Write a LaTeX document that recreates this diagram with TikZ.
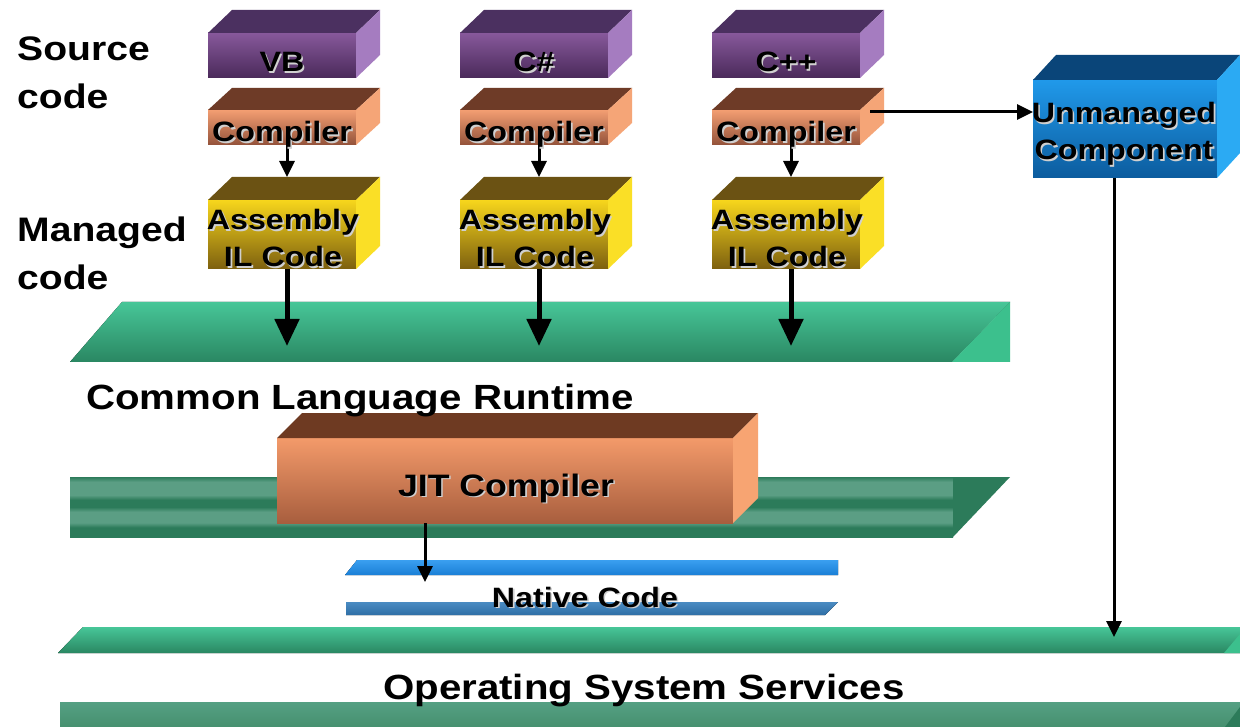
\documentclass[tikz,border=0pt]{standalone}
\usepackage{fontspec}
\setmainfont{Liberation Sans}[FakeStretch=1.15]
\usetikzlibrary{arrows.meta,calc}

% box colours: top face, front top, front bottom, side face
\definecolor{pTop}{HTML}{4B3060}
\definecolor{pFT}{HTML}{87589B}
\definecolor{pFB}{HTML}{4A2A5A}
\definecolor{pSide}{HTML}{A57CC0}
\definecolor{cTop}{HTML}{6E3B27}
\definecolor{cFT}{HTML}{F39E72}
\definecolor{cFB}{HTML}{93523A}
\definecolor{cSide}{HTML}{F5A577}
\definecolor{aTop}{HTML}{6B5213}
\definecolor{aFT}{HTML}{F7D61C}
\definecolor{aFB}{HTML}{7D600F}
\definecolor{aSide}{HTML}{FADF26}
\definecolor{uTop}{HTML}{0A4579}
\definecolor{uFT}{HTML}{2099EA}
\definecolor{uFB}{HTML}{0C5C9E}
\definecolor{uSide}{HTML}{2BAAF3}
\definecolor{jTop}{HTML}{6E3A22}
\definecolor{jFT}{HTML}{F39A6A}
\definecolor{jFB}{HTML}{A85E3E}
\definecolor{jSide}{HTML}{F7A472}
% layer colours
\definecolor{gA}{HTML}{47C698}
\definecolor{gB}{HTML}{2A8762}
\definecolor{gC}{HTML}{3CC08D}
\definecolor{stL}{HTML}{5B9E84}
\definecolor{stD}{HTML}{2C7B5A}
\definecolor{oA}{HTML}{55A083}
\definecolor{oB}{HTML}{46906F}
\definecolor{bA}{HTML}{3A9FF0}
\definecolor{bB}{HTML}{1A7FD6}
\definecolor{sA}{HTML}{4A8BC2}
\definecolor{sB}{HTML}{2F6FA6}
\definecolor{shadowc}{HTML}{D0D0D0}

% striped runtime layer
\pgfdeclareverticalshading{clrstripes}{100bp}{color(0bp)=(stD); color(25bp)=(stD); color(33bp)=(stD); color(37bp)=(stL); color(46bp)=(stL); color(50bp)=(stD); color(56bp)=(stD); color(60bp)=(stL); color(71bp)=(stL); color(75bp)=(stD); color(100bp)=(stD)}

% text with a light drop shadow
\newcommand\shtext[1]{\makebox[0pt][l]{\hspace*{1.6pt}\raisebox{-1.6pt}{\textcolor{shadowc}{#1}}}#1}
\newcommand\twolines[2]{\begin{tabular}[t]{@{}c@{}}\shtext{#1}\\\shtext{#2}\end{tabular}}
\newcommand\twolabel[2]{\begin{tabular}[t]{@{}l@{}}#1\\#2\end{tabular}}

% top and side faces of a 3D box whose front face is node #1
\newcommand\cubesides[5]{%
  \fill[#4] (#1.north west) -- ++(#2,-#3) -- ($(#1.north east)+(#2,-#3)$) -- (#1.north east) -- cycle;
  \fill[#5] (#1.north east) -- ($(#1.north east)+(#2,-#3)$) -- ($(#1.south east)+(#2,-#3)$) -- (#1.south east) -- cycle;}

\begin{document}
\begin{tikzpicture}[x=1pt,y=-1pt,
  face/.style={rectangle, draw=none, inner sep=0pt, outer sep=0pt},
  boxtext/.style={font=\fontsize{28}{36.8}\selectfont\bfseries, inner sep=0pt, text=black, anchor=base},
  lbl/.style={font=\fontsize{34}{47.5}\selectfont\bfseries, inner sep=0pt, anchor=base west},
  biglbl/.style={font=\fontsize{35}{42}\selectfont\bfseries, inner sep=0pt, anchor=base west},
  flow/.style={line width=3pt, -{Triangle[length=16pt,width=15pt]}},
  bigflow/.style={line width=5pt, -{Triangle[length=27pt,width=24pt]}},
]
\fill[white] (0,0) rectangle (1240,727);
\useasboundingbox (0,0) rectangle (1240,727);

% ---- layers ----
% runtime, upper slab
\fill[top color=gA, bottom color=gB] (122,302) -- (1010,302) -- (952,362) -- (70,362) -- cycle;
\fill[gC] (952,362) -- (1010,302) -- (1010,362) -- cycle;
% runtime, lower slab
\fill[shading=clrstripes] (70,477) rectangle (953,537);
\fill[stD] (953,477) -- (1010,477) -- (953,537) -- cycle;
% operating system, upper slab
\fill[top color=gA, bottom color=gB] (83,627) -- (1240,627) -- (1240,653) -- (58,653) -- cycle;
\fill[gC] (1224,653) -- (1240,634) -- (1240,653) -- cycle;
% operating system, lower slab
\fill[top color=oA, bottom color=oB] (60,702) rectangle (1240,727);
\fill[stD] (1225,727) -- (1240,707) -- (1240,727) -- cycle;
% native code bars
\fill[top color=bA, bottom color=bB] (357,560) -- (838,560) -- (838,575) -- (345,575) -- cycle;
\fill[top color=sA, bottom color=sB] (346,602) -- (838,602) -- (825,615) -- (346,615) -- cycle;

% ---- source language boxes ----
\node[face, minimum width=148pt, minimum height=45pt, top color=pFT, bottom color=pFB] (vb) at (282,55.5) {};
\node[face, minimum width=148pt, minimum height=45pt, top color=pFT, bottom color=pFB] (cs) at (534,55.5) {};
\node[face, minimum width=148pt, minimum height=45pt, top color=pFT, bottom color=pFB] (cpp) at (786,55.5) {};
\cubesides{vb}{24}{23}{pTop}{pSide}
\cubesides{cs}{24}{23}{pTop}{pSide}
\cubesides{cpp}{24}{23}{pTop}{pSide}

% ---- compilers ----
\node[face, minimum width=148pt, minimum height=35pt, top color=cFT, bottom color=cFB] (vbc) at (282,127.5) {};
\node[face, minimum width=148pt, minimum height=35pt, top color=cFT, bottom color=cFB] (csc) at (534,127.5) {};
\node[face, minimum width=148pt, minimum height=35pt, top color=cFT, bottom color=cFB] (cppc) at (786,127.5) {};
\cubesides{vbc}{24}{22}{cTop}{cSide}
\cubesides{csc}{24}{22}{cTop}{cSide}
\cubesides{cppc}{24}{22}{cTop}{cSide}

% ---- assemblies ----
\node[face, minimum width=148pt, minimum height=69pt, top color=aFT, bottom color=aFB] (vba) at (282,234.5) {};
\node[face, minimum width=148pt, minimum height=69pt, top color=aFT, bottom color=aFB] (csa) at (534,234.5) {};
\node[face, minimum width=148pt, minimum height=69pt, top color=aFT, bottom color=aFB] (cppa) at (786,234.5) {};
\cubesides{vba}{24}{23}{aTop}{aSide}
\cubesides{csa}{24}{23}{aTop}{aSide}
\cubesides{cppa}{24}{23}{aTop}{aSide}

% ---- unmanaged component ----
\node[face, minimum width=184pt, minimum height=98pt, top color=uFT, bottom color=uFB] (unm) at (1125,129) {};
\cubesides{unm}{23}{25}{uTop}{uSide}

% ---- JIT compiler ----
\node[face, minimum width=456pt, minimum height=85pt, top color=jFT, bottom color=jFB] (jit) at (505,480.5) {};
\cubesides{jit}{25}{25}{jTop}{jSide}

% ---- connectors ----
\draw[flow] ([xshift=5pt]vbc.south) -- ([xshift=5pt,yshift=23pt]vba.north);
\draw[flow] ([xshift=5pt]csc.south) -- ([xshift=5pt,yshift=23pt]csa.north);
\draw[flow] ([xshift=5pt]cppc.south) -- ([xshift=5pt,yshift=23pt]cppa.north);

\coordinate (clrhit) at (0,346);
\draw[bigflow] ([xshift=5pt]vba.south) -- ([xshift=5pt]vba.south |- clrhit);
\draw[bigflow] ([xshift=5pt]csa.south) -- ([xshift=5pt]csa.south |- clrhit);
\draw[bigflow] ([xshift=5pt]cppa.south) -- ([xshift=5pt]cppa.south |- clrhit);

\coordinate (cppout) at ($(cppc.north east)+(10,2)$);
\draw[flow] (cppout) -- (cppout -| unm.west);

\coordinate (osin) at (1114,637);
\draw[flow] (unm.south -| osin) -- (osin);

\coordinate (nativein) at (425,582);
\draw[flow] (jit.south -| nativein) -- (nativein);

% ---- texts ----
\node[lbl] (srclbl) at (17,61) {\twolabel{Source}{code}};
\node[lbl] (mgdlbl) at (17,242) {\twolabel{Managed}{code}};

\node[boxtext] (vbt) at (282,71.7) {\shtext{VB}};
\node[boxtext] (cst) at (534,71.7) {\shtext{C\#}};
\node[boxtext] (cppt) at (786,71.7) {\shtext{C++}};

\node[boxtext] (vbct) at (282,141.7) {\shtext{Compiler}};
\node[boxtext] (csct) at (534,141.7) {\shtext{Compiler}};
\node[boxtext] (cppct) at (786,141.7) {\shtext{Compiler}};

\node[boxtext] (vbat) at (283,230) {\twolines{Assembly}{IL Code}};
\node[boxtext] (csat) at (535,230) {\twolines{Assembly}{IL Code}};
\node[boxtext] (cppat) at (787,230) {\twolines{Assembly}{IL Code}};

\node[boxtext] (unmt) at (1124,123) {\twolines{Unmanaged}{Component}};

\node[biglbl] (clr) at (86,409) {Common Language Runtime};
\node[boxtext, font=\fontsize{31}{36}\selectfont\bfseries] (jitt) at (506,496) {\shtext{JIT Compiler}};
\node[boxtext] (native) at (585,607) {\shtext{Native Code}};
\node[biglbl] (os) at (383,699) {Operating System Services};
\end{tikzpicture}
\end{document}
